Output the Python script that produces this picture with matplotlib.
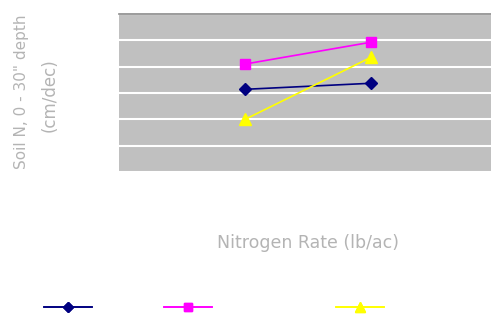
import matplotlib
matplotlib.use("Agg")
import matplotlib.pyplot as plt
from matplotlib.lines import Line2D

# Nitrogen rate treatments (category positions) and measured values per series
rates = [1, 2]
series_a = [3.14, 3.37]   # navy diamonds
series_b = [4.10, 4.93]   # magenta squares
series_c = [2.00, 4.36]   # yellow triangles
y_ticks = [0, 1, 2, 3, 4, 5, 6]

fig = plt.figure(figsize=(4.91, 3.23), dpi=100)
ax = fig.add_axes([119 / 491, 1 - 172 / 323, 1 - 119 / 491, (172 - 14) / 323])
ax.set_facecolor("#c0c0c0")

ax.set_xlim(0, 2.95)
ax.set_ylim(y_ticks[0], y_ticks[-1])
ax.set_yticks(y_ticks)
ax.set_xticks([])
ax.tick_params(left=False, labelleft=False)
ax.yaxis.grid(True, color="white", linewidth=1.5)
ax.set_axisbelow(True)
for side in ("left", "right", "bottom"):
    ax.spines[side].set_visible(False)
ax.spines["top"].set_color("#8a8a8a")
ax.spines["top"].set_linewidth(1.2)

styles = [
    (series_a, "#000080", "D", 6),
    (series_b, "#ff00ff", "s", 7),
    (series_c, "#ffff00", "^", 8),
]
handles = []
for vals, col, mk, ms in styles:
    ax.plot(rates, vals, color=col, marker=mk, markersize=ms, linewidth=1.2,
            clip_on=False)
    handles.append(Line2D([], [], color=col, marker=mk, markersize=ms - 1,
                          linewidth=1.2))

txt_col = "#b4b4b4"
fig.text(308 / 491, 1 - 243 / 323, "Nitrogen Rate (lb/ac)", ha="center",
         va="center", fontsize=12.5, color=txt_col)
fig.text(22 / 491, 1 - 92 / 323, "Soil N, 0 - 30\" depth", ha="center",
         va="center", rotation=90, fontsize=11, color=txt_col)
fig.text(50 / 491, 1 - 95 / 323, "(cm/dec)", ha="center", va="center",
         rotation=90, fontsize=12, color=txt_col)

for h, cx in zip(handles, [68, 188, 360]):
    leg = fig.legend([h], [""], loc="center",
                     bbox_to_anchor=(cx / 491, 1 - 308 / 323),
                     frameon=False, handlelength=3.4, handletextpad=0,
                     borderpad=0, borderaxespad=0)
    fig.add_artist(leg)

fig.savefig("out.png", dpi=100)
